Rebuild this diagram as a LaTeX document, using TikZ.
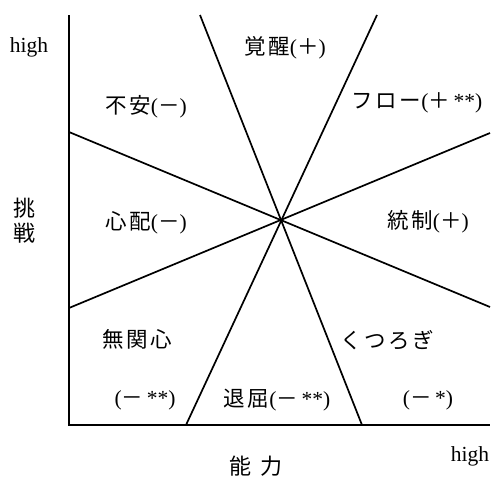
\documentclass[tikz,border=0pt]{standalone}
\usepackage{fontspec}
\setmainfont{Liberation Serif}
\newfontfamily\cjk[LetterSpace=12]{Noto Sans CJK JP}
\newcommand{\mn}{{\cjk －}}
\newcommand{\pl}{{\cjk ＋}}
\begin{document}
\begin{tikzpicture}[x=1pt,y=-1pt,
  axis/.style={line width=2.3pt},
  ray/.style={line width=1.7pt},
  lbl/.style={inner sep=0pt,font=\fontsize{21.5}{24}\selectfont},
  big/.style={inner sep=0pt,font=\fontsize{22}{24}\selectfont\cjk}]
\useasboundingbox (0,0) rectangle (492,477);
% axes
\coordinate (ytop) at (69,15);
\coordinate (orig) at (69,425);
\coordinate (xend) at (490,425);
\draw[axis] (ytop) -- (orig) -- (xend);
% rays through the centre
\coordinate (c) at (281,220);
\coordinate (a1) at (200,15);  \coordinate (a2) at (362,425);
\coordinate (b1) at (377,15);  \coordinate (b2) at (186,425);
\coordinate (c1) at (69,132);  \coordinate (c2) at (490,307);
\coordinate (d1) at (69,308);  \coordinate (d2) at (490,133);
\draw[ray] (a1) -- (a2);
\draw[ray] (b1) -- (b2);
\draw[ray] (c1) -- (c2);
\draw[ray] (d1) -- (d2);
% labels
\node[lbl] (hy) at (29,47) {high};
\node[lbl] (hx) at (470,456) {high};
\node[big] (ch1) at (24,208) {挑};
\node[big] (ch2) at (24,233) {戦};
\node[big] (nr) at (256,466) {能\hspace{9pt}力};
\node[lbl] (l1) at (285,48) {{\cjk 覚醒}(\pl)};
\node[lbl] (l2) at (146,107) {{\cjk 不安}(\mn)};
\node[lbl] (l3) at (417,103) {{\cjk フロー}(\pl\,**)};
\node[lbl] (l4) at (146,223) {{\cjk 心配}(\mn)};
\node[lbl] (l5) at (428,222) {{\cjk 統制}(\pl)};
\node[lbl] (l6) at (137,339) {\cjk 無関心};
\node[lbl] (l7) at (387,340) {\cjk くつろぎ};
\node[lbl] (l8) at (145,400) {(\mn\,**)};
\node[lbl] (l9) at (277,400) {{\cjk 退屈}(\mn\,**)};
\node[lbl] (l10) at (428,400) {(\mn\,*)};
\end{tikzpicture}
\end{document}
